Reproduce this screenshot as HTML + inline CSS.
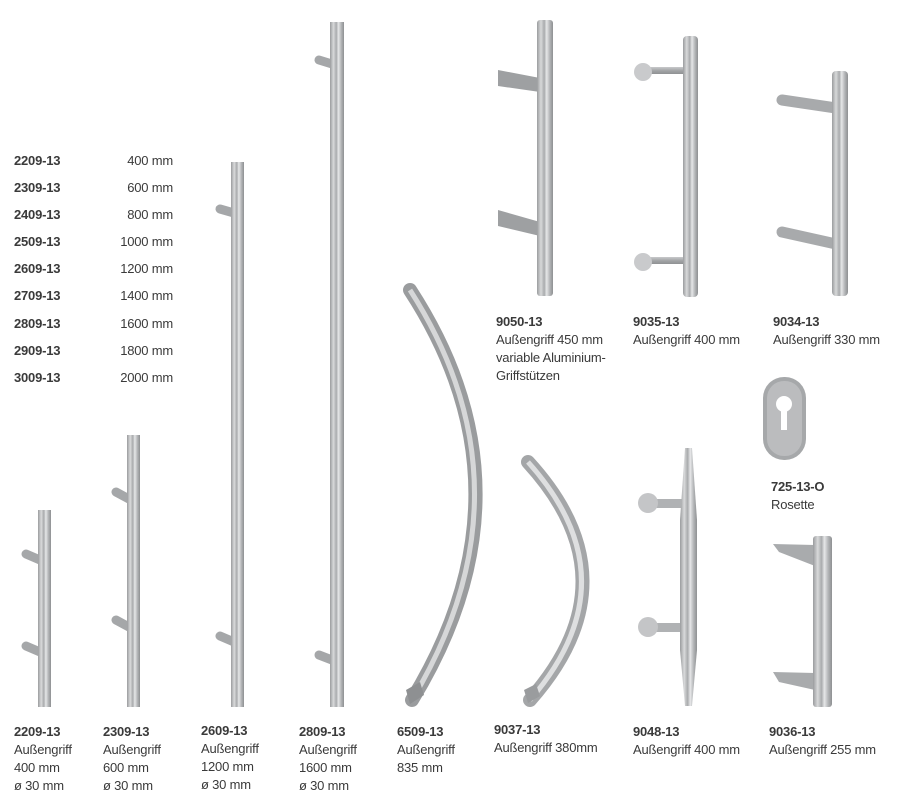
<!DOCTYPE html>
<html><head><meta charset="utf-8"><style>
html,body{margin:0;padding:0;background:#fff;}
svg{display:block;}
text{font-family:"Liberation Sans",sans-serif;font-size:13px;fill:#3a3a3a;letter-spacing:-0.2px;}
.b{font-weight:bold;}
</style></head><body>
<svg width="918" height="804" viewBox="0 0 918 804" xmlns="http://www.w3.org/2000/svg">
<defs>
<linearGradient id="m" x1="0" x2="1" y1="0" y2="0">
<stop offset="0" stop-color="#9a9c9e"/><stop offset="0.25" stop-color="#d8d9da"/><stop offset="0.45" stop-color="#a9abad"/><stop offset="0.6" stop-color="#e6e7e8"/><stop offset="0.8" stop-color="#b3b5b7"/><stop offset="1" stop-color="#8e9092"/>
</linearGradient>
<linearGradient id="mv" x1="0" x2="0" y1="0" y2="1">
<stop offset="0" stop-color="#c8c9cb"/><stop offset="0.5" stop-color="#a3a5a7"/><stop offset="1" stop-color="#8f9193"/>
</linearGradient>
</defs>

<g>
<text class="b" x="14" y="165">2209-13</text><text x="173" y="165" text-anchor="end">400 mm</text>
<text class="b" x="14" y="192">2309-13</text><text x="173" y="192" text-anchor="end">600 mm</text>
<text class="b" x="14" y="219">2409-13</text><text x="173" y="219" text-anchor="end">800 mm</text>
<text class="b" x="14" y="246">2509-13</text><text x="173" y="246" text-anchor="end">1000 mm</text>
<text class="b" x="14" y="273">2609-13</text><text x="173" y="273" text-anchor="end">1200 mm</text>
<text class="b" x="14" y="300">2709-13</text><text x="173" y="300" text-anchor="end">1400 mm</text>
<text class="b" x="14" y="328">2809-13</text><text x="173" y="328" text-anchor="end">1600 mm</text>
<text class="b" x="14" y="355">2909-13</text><text x="173" y="355" text-anchor="end">1800 mm</text>
<text class="b" x="14" y="382">3009-13</text><text x="173" y="382" text-anchor="end">2000 mm</text>
</g>

<g stroke="#a5a7a9" stroke-width="9" stroke-linecap="round">
<line x1="26" y1="554" x2="40" y2="560"/><line x1="26" y1="646" x2="40" y2="652"/>
<line x1="116" y1="492" x2="129" y2="499"/><line x1="116" y1="620" x2="129" y2="627"/>
<line x1="220" y1="209" x2="234" y2="213"/><line x1="220" y1="636" x2="234" y2="642"/>
<line x1="319" y1="60" x2="332" y2="64"/><line x1="319" y1="655" x2="332" y2="660"/>
</g>
<rect x="38" y="510" width="13" height="197" fill="url(#m)"/>
<rect x="127" y="435" width="13" height="272" fill="url(#m)"/>
<rect x="231" y="162" width="13" height="545" fill="url(#m)"/>
<rect x="330" y="22" width="14" height="685" fill="url(#m)"/>

<path d="M410,290 Q540,490 412,700" fill="none" stroke="#9a9c9e" stroke-width="14" stroke-linecap="round"/>
<path d="M410,290 Q538,490 412,700" fill="none" stroke="#d6d7d8" stroke-width="5"/>
<polygon points="406,690 420,682 424,695 410,704" fill="#8e9092"/>
<path d="M528,462 Q636,580 530,700" fill="none" stroke="#a4a6a8" stroke-width="14" stroke-linecap="round"/>
<path d="M528,462 Q634,580 530,700" fill="none" stroke="#dedfe0" stroke-width="5"/>
<polygon points="524,690 536,684 540,696 528,703" fill="#9a9c9e"/>

<polygon points="498,70 540,78 540,92 498,86" fill="#9ea0a2"/>
<polygon points="498,210 540,222 540,236 498,226" fill="#9ea0a2"/>
<rect x="537" y="20" width="16" height="276" rx="3" fill="url(#m)"/>

<rect x="650" y="67" width="36" height="7" fill="url(#mv)"/>
<rect x="650" y="257" width="36" height="7" fill="url(#mv)"/>
<circle cx="643" cy="72" r="9" fill="#c9cacc"/><circle cx="643" cy="262" r="9" fill="#c9cacc"/>
<rect x="683" y="36" width="15" height="261" rx="4" fill="url(#m)"/>

<g stroke="#a8aaac" stroke-width="11" stroke-linecap="round">
<line x1="782" y1="100" x2="836" y2="108"/><line x1="782" y1="232" x2="836" y2="244"/>
</g>
<rect x="832" y="71" width="16" height="225" rx="4" fill="url(#m)"/>

<rect x="763" y="377" width="43" height="83" rx="21" fill="#a6a8aa"/>
<rect x="767" y="381" width="35" height="75" rx="17" fill="#bbbcbe"/>
<circle cx="784" cy="404" r="8" fill="#fff"/>
<rect x="781" y="404" width="6" height="26" fill="#fff"/>

<rect x="648" y="499" width="36" height="9" fill="#b0b2b4"/>
<rect x="648" y="623" width="36" height="9" fill="#b0b2b4"/>
<circle cx="648" cy="503" r="10" fill="#c4c5c7"/><circle cx="648" cy="627" r="10" fill="#c4c5c7"/>
<path d="M685,448 L692,448 L697,520 L697,650 L692,706 L685,706 L680,650 L680,520 Z" fill="url(#m)"/>

<polygon points="773,544 815,545 815,566 779,552" fill="#a9abad"/>
<polygon points="773,672 815,673 815,690 779,682" fill="#a9abad"/>
<rect x="813" y="536" width="19" height="171" rx="3" fill="url(#m)"/>

<text class="b" x="496" y="326">9050-13</text>
<text x="496" y="344">Außengriff 450 mm</text>
<text x="496" y="362">variable Aluminium-</text>
<text x="496" y="380">Griffstützen</text>
<text class="b" x="633" y="326">9035-13</text>
<text x="633" y="344">Außengriff 400 mm</text>
<text class="b" x="773" y="326">9034-13</text>
<text x="773" y="344">Außengriff 330 mm</text>
<text class="b" x="771" y="491">725-13-O</text>
<text x="771" y="509">Rosette</text>

<text class="b" x="14" y="736">2209-13</text><text x="14" y="754">Außengriff</text><text x="14" y="772">400 mm</text><text x="14" y="790">ø 30 mm</text>
<text class="b" x="103" y="736">2309-13</text><text x="103" y="754">Außengriff</text><text x="103" y="772">600 mm</text><text x="103" y="790">ø 30 mm</text>
<text class="b" x="201" y="735">2609-13</text><text x="201" y="753">Außengriff</text><text x="201" y="771">1200 mm</text><text x="201" y="789">ø 30 mm</text>
<text class="b" x="299" y="736">2809-13</text><text x="299" y="754">Außengriff</text><text x="299" y="772">1600 mm</text><text x="299" y="790">ø 30 mm</text>
<text class="b" x="397" y="736">6509-13</text><text x="397" y="754">Außengriff</text><text x="397" y="772">835 mm</text>
<text class="b" x="494" y="734">9037-13</text><text x="494" y="752">Außengriff 380mm</text>
<text class="b" x="633" y="736">9048-13</text><text x="633" y="754">Außengriff 400 mm</text>
<text class="b" x="769" y="736">9036-13</text><text x="769" y="754">Außengriff 255 mm</text>
</svg>
</body></html>
